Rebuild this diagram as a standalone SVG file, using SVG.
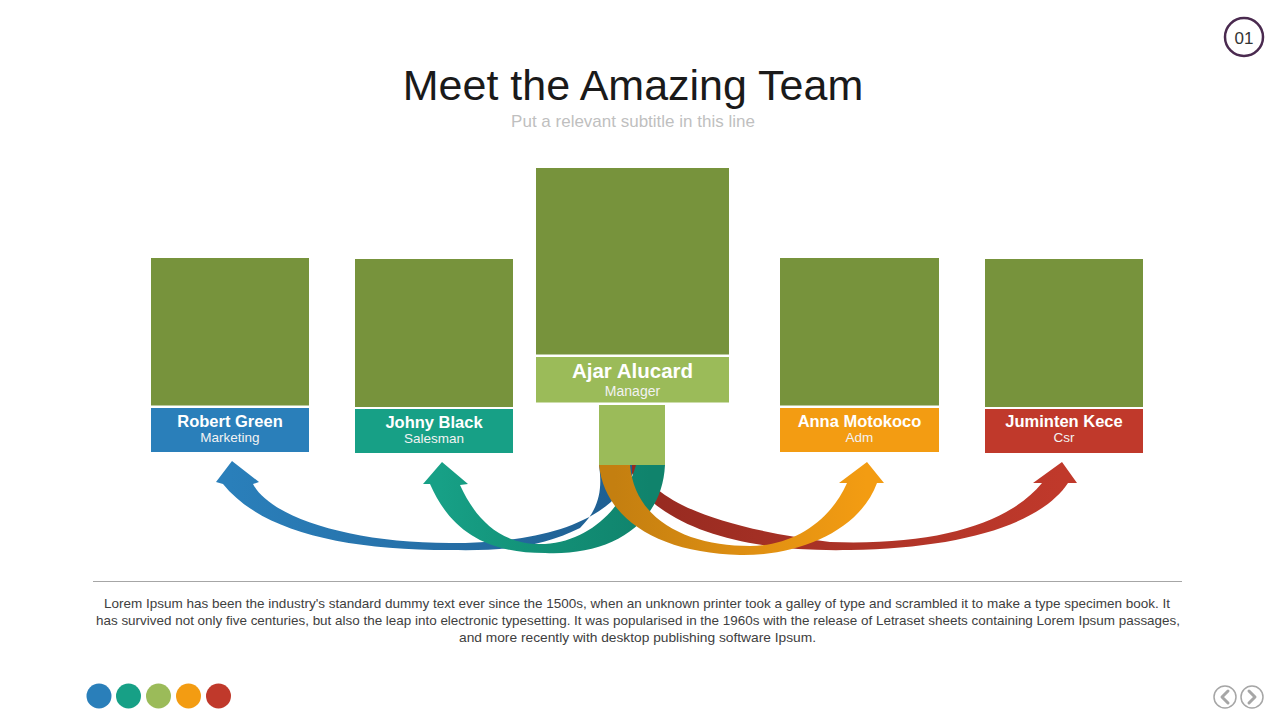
<svg xmlns="http://www.w3.org/2000/svg" width="1280" height="720" viewBox="0 0 1280 720">
<style>
.photo{fill:#77933c}
.name{font-family:"Liberation Sans",Arial,sans-serif;font-weight:bold;fill:#fff;text-anchor:middle}
.role{font-family:"Liberation Sans",Arial,sans-serif;fill:#f2f2f2;text-anchor:middle}
.para{font-family:"Liberation Sans",Arial,sans-serif;font-size:12.4px;fill:#404040;text-anchor:middle}
.nav{fill:none;stroke:#a6a6a6;stroke-width:1.5}
.chev{fill:none;stroke:#a6a6a6;stroke-width:3;stroke-linecap:round;stroke-linejoin:round}
</style>
<defs>
<linearGradient id="gBlue" gradientUnits="userSpaceOnUse" x1="620" y1="0" x2="230" y2="0">
<stop offset="0" stop-color="#1f5f91"/><stop offset="0.5" stop-color="#2670a8"/><stop offset="1" stop-color="#2a7fba"/>
</linearGradient>
<linearGradient id="gTeal" gradientUnits="userSpaceOnUse" x1="650" y1="0" x2="440" y2="0">
<stop offset="0" stop-color="#10836c"/><stop offset="0.6" stop-color="#139379"/><stop offset="1" stop-color="#17a086"/>
</linearGradient>
<linearGradient id="gOrange" gradientUnits="userSpaceOnUse" x1="615" y1="0" x2="866" y2="0">
<stop offset="0" stop-color="#c47f10"/><stop offset="0.5" stop-color="#dd8e12"/><stop offset="1" stop-color="#f39c12"/>
</linearGradient>
<linearGradient id="gRed" gradientUnits="userSpaceOnUse" x1="640" y1="0" x2="1062" y2="0">
<stop offset="0" stop-color="#962a20"/><stop offset="0.5" stop-color="#ac3327"/><stop offset="1" stop-color="#c0392b"/>
</linearGradient>
</defs>

<rect width="1280" height="720" fill="#ffffff"/>

<g id="page-number">
<circle cx="1244" cy="37" r="19" fill="#fff" stroke="#4a2a4f" stroke-width="2.5"/>
<text x="1244" y="43.5" font-family="Liberation Sans,Arial,sans-serif" font-size="17" fill="#333" text-anchor="middle">01</text>
</g>

<g id="title">
<text x="633" y="100" font-family="Liberation Sans,Arial,sans-serif" font-size="43" fill="#1a1a1a" text-anchor="middle">Meet the Amazing Team</text>
<text x="633" y="127" font-family="Liberation Sans,Arial,sans-serif" font-size="17" fill="#bfbfbf" text-anchor="middle">Put a relevant subtitle in this line</text>
</g>

<g id="connectors">
<path id="arrow-red" fill="url(#gRed)" d="M1033,483 L1062,462 L1077,483 L1068,483 C1040,525 960,548 850,550 C760,552 680,535 640,490 L628,465 L640,465 C652,502 720,528 830,542 C940,546 1010,522 1042,483 Z"/>
<path id="arrow-blue" fill="url(#gBlue)" d="M216,482 L232,461 L259,482 L253,484 C270,517 350,543 450,543 C530,543 605,528 632,475 L632,465 L599,465 C603,492 598,510 580,528 C540,548 500,551 450,550 C340,550 260,530 223,484 Z"/>
<path id="arrow-teal" fill="url(#gTeal)" d="M423,484 L442,462 L468,484 L460,485 C475,518 500,546 545,544 C592,541 625,505 636,465 L665,465 C662,525 610,556 545,553 C485,553 450,530 430,484 Z"/>
<path id="arrow-orange" fill="url(#gOrange)" d="M839,483 L867,462 L884,483 L877,483 C860,530 800,556 740,555 C660,553 605,520 599,465 L630,465 C635,522 690,546 750,546 C792,546 830,522 847,483 Z"/>
</g>

<g id="node-robert">
<rect class="photo" x="151" y="258" width="158" height="147.5"/>
<rect x="151" y="408" width="158" height="44" fill="#2a7fba"/>
<text class="name" x="230" y="427" font-size="16.5">Robert Green</text>
<text class="role" x="230" y="442" font-size="13.5">Marketing</text>
</g>

<g id="node-johny">
<rect class="photo" x="355" y="259" width="158" height="148"/>
<rect x="355" y="409" width="158" height="44" fill="#17a086"/>
<text class="name" x="434" y="428" font-size="16.5">Johny Black</text>
<text class="role" x="434" y="443" font-size="13.5">Salesman</text>
</g>

<g id="node-ajar">
<rect class="photo" x="536" y="168" width="193" height="186.5"/>
<rect x="536" y="357" width="193" height="45.5" fill="#9bbb59"/>
<text class="name" x="632.5" y="378" font-size="20.5">Ajar Alucard</text>
<text class="role" x="632.5" y="395.5" font-size="14">Manager</text>
<rect x="599" y="405" width="66" height="60" fill="#9bbb59"/>
</g>

<g id="node-anna">
<rect class="photo" x="780" y="258" width="159" height="147.5"/>
<rect x="780" y="408" width="159" height="44" fill="#f39c12"/>
<text class="name" x="859.5" y="427" font-size="16.5">Anna Motokoco</text>
<text class="role" x="859.5" y="442" font-size="13.5">Adm</text>
</g>

<g id="node-juminten">
<rect class="photo" x="985" y="259" width="158" height="148"/>
<rect x="985" y="409" width="158" height="44" fill="#c0392b"/>
<text class="name" x="1064" y="427" font-size="16.5">Juminten Kece</text>
<text class="role" x="1064" y="442" font-size="13.5">Csr</text>
</g>

<g id="description">
<line x1="93" y1="581.5" x2="1182" y2="581.5" stroke="#a6a6a6" stroke-width="1"/>
<text class="para" x="637" y="608" textLength="1066" lengthAdjust="spacingAndGlyphs">Lorem Ipsum has been the industry's standard dummy text ever since the 1500s, when an unknown printer took a galley of type and scrambled it to make a type specimen book. It</text>
<text class="para" x="638" y="625" textLength="1084" lengthAdjust="spacingAndGlyphs">has survived not only five centuries, but also the leap into electronic typesetting. It was popularised in the 1960s with the release of Letraset sheets containing Lorem Ipsum passages,</text>
<text class="para" x="637.5" y="642" textLength="357" lengthAdjust="spacingAndGlyphs">and more recently with desktop publishing software Ipsum.</text>
</g>

<g id="color-dots">
<circle cx="99" cy="696" r="12.5" fill="#2a7fba"/>
<circle cx="128.5" cy="696" r="12.5" fill="#17a086"/>
<circle cx="158.5" cy="696" r="12.5" fill="#9bbb59"/>
<circle cx="188.5" cy="696" r="12.5" fill="#f39c12"/>
<circle cx="218.5" cy="696" r="12.5" fill="#c0392b"/>
</g>

<g id="nav-buttons">
<circle class="nav" cx="1225" cy="697" r="11"/>
<path class="chev" d="M1228,691 L1222,697 L1228,703"/>
<circle class="nav" cx="1252" cy="697" r="11"/>
<path class="chev" d="M1249,691 L1255,697 L1249,703"/>
</g>
</svg>
